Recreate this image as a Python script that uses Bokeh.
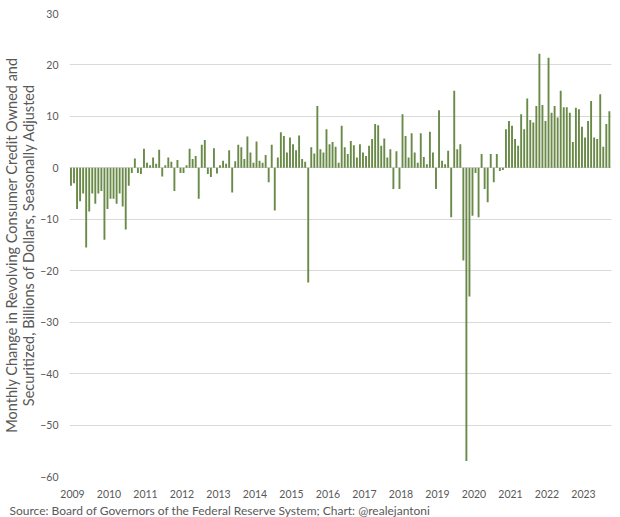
from bokeh.plotting import figure
from bokeh.models import FixedTicker, Title, ColumnDataSource, Range1d
from bokeh.embed import file_html
from bokeh.resources import INLINE

# Monthly change, billions of dollars, starting June 2009
start_year = 2009
start_month = 6
changes = [
    -3.5, -3, -8, -6.5, -5, -15.5, -8.5, -5, -7, -5, -4.5, -14, -8, -6, -6, -7,
    -5, -7.5, -12, -3.5, -1, 1.8, -1, -1.2, 3.7, 1, 0.5, 2, 0.8, 3.5, -1.7, 0.5,
    2, 1.2, -4.5, 1.5, -1, -1, 0.5, 3.7, 1.7, 2.3, -6, 4.5, 5.4, -1.2, -1.8, 3.8,
    -1.1, 0.5, 1.4, 0.8, 3.4, -4.8, 1.3, 4.5, 4, 1.7, 6.1, 3, 1, 5.1, 1.4, 1,
    2.5, -2.8, 4.5, -8.3, 2, 6.9, 6.2, 3, 5.9, 4.6, 3.4, 6.3, 1.7, 1.2, -22.3, 4,
    2.8, 12, 3.6, 3, 7.5, 4.6, 5, 4.1, 1, 8.2, 4, 2.7, 5.2, 4.4, 2, 4.6,
    3, 2.3, 4.3, 5.6, 8.5, 8.3, 4.3, 5.7, 2, 3.6, -4.1, 3.2, -4.1, 10.4, 6.2, 2,
    6.7, 3, 1, 6.7, 2.1, 0.7, 7, 3, -4.1, 11.2, 1.4, 0.7, 3.3, -9.6, 15, 3.6,
    4.6, -18, -57, -25, -9.3, -1, -9.6, 2.7, -4.1, -6.7, 2.7, -2.8, 2.7, -0.6, -0.4, 7.5,
    9.1, 8.2, 5.6, 4.3, 10.4, 7.5, 13.5, 9.3, 8.8, 12, 22.2, 12.2, 9.1, 21.4, 10.7, 12,
    9.8, 15, 11.8, 11.8, 10.7, 5, 11.7, 11.4, 8, 5.9, 9.1, 13, 5.9, 5.6, 14.3, 4.1,
    8.5, 11,
]
year_labels = list(range(2009, 2024))
y_ticks = [-60, -50, -40, -30, -20, -10, 0, 10, 20, 30]

xs = [start_year + (start_month - 1 + i + 0.5) / 12 for i in range(len(changes))]
src = ColumnDataSource(dict(x=xs, top=changes))

FONT = "Lato"
GREY = "#595959"

p = figure(frame_width=542, frame_height=463, output_backend="svg", toolbar_location=None,
           x_range=Range1d(2009.418, 2024.267), y_range=Range1d(-60, 30),
           min_border_left=0, min_border_right=2, min_border_top=13, min_border_bottom=0,
           background_fill_color="white", border_fill_color="white")
p.outline_line_color = None

p.vbar(x="x", top="top", bottom=0, width=0.052, source=src,
       fill_color="#6a8a48", line_color=None)

p.xgrid.visible = False
p.ygrid.grid_line_color = "#d9d9d9"
p.ygrid.grid_line_width = 1

p.yaxis.ticker = FixedTicker(ticks=y_ticks)
p.xaxis.ticker = FixedTicker(ticks=[y + 0.5 for y in year_labels])
p.xaxis.major_label_overrides = {y + 0.5: str(y) for y in year_labels}

for ax in (p.xaxis[0], p.yaxis[0]):
    ax.axis_line_color = None
    ax.major_tick_line_color = None
    ax.minor_tick_line_color = None
    ax.major_label_text_font = FONT
    ax.major_label_text_font_size = "10.5px"
    ax.major_label_text_color = GREY

p.xaxis.major_label_standoff = 7
p.yaxis.major_label_standoff = 5

p.yaxis.axis_label = ("Monthly Change in Revolving Consumer Credit Owned and\n"
                      "Securitized, Billions of Dollars, Seasonally Adjusted")
p.yaxis.axis_label_text_font = FONT
p.yaxis.axis_label_text_font_size = "14.5px"
p.yaxis.axis_label_text_font_style = "normal"
p.yaxis.axis_label_text_color = GREY
p.yaxis.axis_label_text_line_height = 1.0
p.yaxis.axis_label_standoff = 0

src_title = Title(text="Source: Board of Governors of the Federal Reserve System; Chart: @realejantoni",
                  align="left", offset=-60, text_font=FONT, text_font_size="12px",
                  text_font_style="normal", text_color=GREY, standoff=0)
p.add_layout(src_title, "below")

open("out.html", "w").write(file_html(p, INLINE))
